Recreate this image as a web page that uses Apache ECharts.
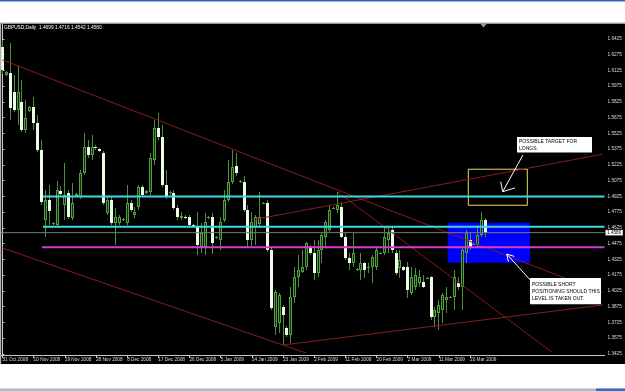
<!DOCTYPE html>
<html><head><meta charset="utf-8">
<script src="https://cdn.jsdelivr.net/npm/echarts@6/dist/echarts.min.js"></script>
<style>html,body{margin:0;padding:0;background:#fff}#c{width:625px;height:391px}</style>
</head><body><div id="c"></div>
<script>
// ---- data (GBPUSD daily, Sunday bars included) ----
const categories = [
'31 Oct 2008',
'2 Nov 2008','3 Nov 2008','4 Nov 2008','5 Nov 2008','6 Nov 2008','7 Nov 2008','9 Nov 2008','10 Nov 2008','11 Nov 2008','12 Nov 2008','13 Nov 2008','14 Nov 2008','16 Nov 2008','17 Nov 2008','18 Nov 2008','19 Nov 2008','20 Nov 2008','21 Nov 2008','23 Nov 2008','24 Nov 2008','25 Nov 2008','26 Nov 2008','27 Nov 2008','28 Nov 2008','30 Nov 2008',
'1 Dec 2008','2 Dec 2008','3 Dec 2008','4 Dec 2008','5 Dec 2008','7 Dec 2008','8 Dec 2008','9 Dec 2008','10 Dec 2008','11 Dec 2008','12 Dec 2008','14 Dec 2008','15 Dec 2008','16 Dec 2008','17 Dec 2008','18 Dec 2008','19 Dec 2008','21 Dec 2008','22 Dec 2008','23 Dec 2008','24 Dec 2008','25 Dec 2008','26 Dec 2008','28 Dec 2008','29 Dec 2008','30 Dec 2008','31 Dec 2008',
'1 Jan 2009','2 Jan 2009','4 Jan 2009','5 Jan 2009','6 Jan 2009','7 Jan 2009','8 Jan 2009','9 Jan 2009','11 Jan 2009','12 Jan 2009','13 Jan 2009','14 Jan 2009','15 Jan 2009','16 Jan 2009','18 Jan 2009','19 Jan 2009','20 Jan 2009','21 Jan 2009','22 Jan 2009','23 Jan 2009','25 Jan 2009','26 Jan 2009','27 Jan 2009','28 Jan 2009','29 Jan 2009','30 Jan 2009',
'1 Feb 2009','2 Feb 2009','3 Feb 2009','4 Feb 2009','5 Feb 2009','6 Feb 2009','8 Feb 2009','9 Feb 2009','10 Feb 2009','11 Feb 2009','12 Feb 2009','13 Feb 2009','15 Feb 2009','16 Feb 2009','17 Feb 2009','18 Feb 2009','19 Feb 2009','20 Feb 2009','22 Feb 2009','23 Feb 2009','24 Feb 2009','25 Feb 2009','26 Feb 2009','27 Feb 2009',
'1 Mar 2009','2 Mar 2009','3 Mar 2009','4 Mar 2009','5 Mar 2009','6 Mar 2009','8 Mar 2009','9 Mar 2009','10 Mar 2009','11 Mar 2009','12 Mar 2009','13 Mar 2009','15 Mar 2009','16 Mar 2009','17 Mar 2009','18 Mar 2009','19 Mar 2009','20 Mar 2009','22 Mar 2009','23 Mar 2009','24 Mar 2009','25 Mar 2009'
];
const opens = [1.6348,1.6082,1.6101,1.5920,1.5749,1.5825,1.5558,1.5739,1.5777,1.5625,1.5368,1.4701,1.4891,1.4663,1.4653,1.4977,1.4844,1.4958,1.4720,1.4929,
1.4920,1.5148,1.5396,1.5320,1.5396,1.5377,1.5339,1.4768,1.4891,1.4672,1.4672,1.4701,1.4672,1.4863,1.4748,1.4825,1.5015,1.4958,1.4968,1.5272,
1.5577,1.5491,1.5034,1.4958,1.4958,1.4815,1.4720,1.4729,1.4729,1.4653,1.4634,1.4444,1.4444,1.4720,1.4729,1.4529,1.4510,1.4701,1.4891,1.5063,
1.5215,1.5063,1.5063,1.4796,1.4510,1.4634,1.4663,1.4858,1.4863,1.4415,1.3680,1.3720,1.3872,1.3672,1.3606,1.3967,1.4158,1.4206,1.4253,1.4444,
1.4387,1.4196,1.4415,1.4539,1.4606,1.4810,1.4796,1.4825,1.4539,1.4339,1.4291,1.4225,1.4225,1.4291,1.4244,1.4253,1.4253,1.4382,1.4387,1.4510,
1.4606,1.4387,1.4244,1.4253,1.4253,1.4006,1.4063,1.4101,1.4110,1.4144,1.4158,1.3777,1.3815,1.3844,1.3939,1.3962,1.3967,1.4101,1.4063,1.4387,
1.4510,1.4468,1.4463,1.4558,1.4699];
const closes = [1.6129,1.6110,1.5768,1.5749,1.5920,1.5558,1.5672,1.5777,1.5625,1.5368,1.4872,1.4891,1.4787,1.4672,1.4987,1.4948,1.4939,1.4729,1.4863,1.4948,
1.5148,1.5396,1.5320,1.5396,1.5387,1.5358,1.4863,1.4891,1.4672,1.4729,1.4729,1.4710,1.4863,1.4796,1.4777,1.5015,1.4939,1.4977,1.5291,1.5577,
1.5491,1.5034,1.4920,1.4968,1.4815,1.4729,1.4739,1.4720,1.4653,1.4644,1.4463,1.4577,1.4682,1.4729,1.4482,1.4539,1.4682,1.4891,1.5063,1.5206,
1.5148,1.5072,1.4796,1.4510,1.4682,1.4729,1.4729,1.4863,1.4415,1.3863,1.4015,1.3987,1.3796,1.3606,1.3967,1.4158,1.4225,1.4253,1.4482,1.4387,
1.4196,1.4415,1.4558,1.4682,1.4796,1.4815,1.4844,1.4539,1.4339,1.4291,1.4387,1.4234,1.4291,1.4225,1.4253,1.4348,1.4415,1.4387,1.4539,1.4577,
1.4415,1.4196,1.4320,1.4225,1.4034,1.4158,1.4177,1.4158,1.4063,1.4149,1.3777,1.3844,1.3891,1.3987,1.3967,1.3967,1.4158,1.4063,1.4415,1.4577,
1.4434,1.4472,1.4558,1.4701,1.4580];
const lows = [1.6091,1.6072,1.5653,1.5729,1.5606,1.5539,1.5529,1.5729,1.5558,1.5349,1.4844,1.4539,1.4653,1.4653,1.4644,1.4920,1.4701,1.4710,1.4701,1.4920,
1.4901,1.5129,1.5291,1.5272,1.5368,1.5349,1.4844,1.4748,1.4653,1.4463,1.4653,1.4691,1.4653,1.4777,1.4720,1.4796,1.4920,1.4948,1.4939,1.5225,
1.5463,1.5015,1.4901,1.4939,1.4796,1.4701,1.4701,1.4710,1.4634,1.4634,1.4367,1.4387,1.4367,1.4710,1.4377,1.4520,1.4415,1.4682,1.4872,1.5044,
1.5120,1.5053,1.4777,1.4444,1.4453,1.4463,1.4625,1.4853,1.4396,1.3844,1.3606,1.3625,1.3510,1.3587,1.3529,1.3910,1.4063,1.4196,1.4225,1.4367,
1.4130,1.4158,1.4291,1.4434,1.4586,1.4806,1.4768,1.4529,1.4320,1.4225,1.4253,1.4215,1.4130,1.4149,1.4196,1.4101,1.4225,1.4377,1.4367,1.4387,
1.4387,1.4177,1.4149,1.4215,1.3958,1.3987,1.4034,1.4063,1.4053,1.4139,1.3748,1.3682,1.3653,1.3720,1.3815,1.3958,1.3844,1.4034,1.3844,1.4291,
1.4415,1.4463,1.4444,1.4539,1.4542];
const highs = [1.6415,1.6120,1.6387,1.6082,1.6167,1.6034,1.5844,1.5787,1.5872,1.5701,1.5463,1.4987,1.5034,1.4682,1.5072,1.5025,1.5244,1.4987,1.5053,1.4958,
1.5177,1.5529,1.5463,1.5510,1.5415,1.5387,1.5358,1.4929,1.4920,1.4815,1.4748,1.4720,1.5034,1.4891,1.4825,1.5034,1.5034,1.4987,1.5339,1.5653,
1.5720,1.5606,1.5177,1.4977,1.4987,1.4844,1.4777,1.4748,1.4748,1.4663,1.4777,1.4672,1.4768,1.4739,1.4768,1.4548,1.4729,1.4987,1.5272,1.5368,
1.5339,1.5082,1.5120,1.4844,1.4777,1.4748,1.4968,1.4872,1.4891,1.4434,1.4034,1.4006,1.3891,1.3691,1.4063,1.4253,1.4367,1.4415,1.4491,1.4463,
1.4510,1.4510,1.4586,1.4701,1.4844,1.4825,1.4968,1.4872,1.4577,1.4387,1.4577,1.4244,1.4387,1.4301,1.4291,1.4367,1.4434,1.4396,1.4634,1.4634,
1.4634,1.4415,1.4415,1.4263,1.4301,1.4253,1.4244,1.4225,1.4177,1.4158,1.4168,1.3872,1.3939,1.4006,1.4063,1.3977,1.4225,1.4158,1.4444,1.4606,
1.4586,1.4482,1.4653,1.4777,1.4716];
const priceTicks = [1.3425,1.3575,1.3725,1.3875,1.4025,1.4175,1.4325,1.4475,1.4625,1.4775,1.4925,1.5075,1.5225,1.5375,1.5525,1.5675,1.5825,1.5975,1.6125,1.6275,1.6425];
const dateLabelStep = 8;
const futureSlots = 30;             // empty chart-shift area right of the last bar
// horizontal levels [startBar, price]
const resistanceLevel = [10.4, 1.4925];
const supportLevel = [10.4, 1.4637];
const triggerLevel = [10.15, 1.4441];
// trend lines as [bar, price] anchors
const trendA = [[0, 1.6225], [154, 1.4008]];
const trendB = [[86, 1.4968], [141, 1.3441]];
const trendC = [[64, 1.4701], [154, 1.5327]];
const trendD = [[0, 1.4434], [78, 1.3432]];
const trendE = [[72, 1.3510], [154, 1.3891]];
// annotation objects
const targetBox = [[119.55, 1.5184], [134.69, 1.4841]];
const shortZone = [[114.26, 1.4675], [135.38, 1.4294]];
const arrowTarget = [[133.58, 1.5320], [128.37, 1.4970]];
const arrowTargetHead = [[127.86, 1.5066], [128.37, 1.4970], [131.53, 1.5006]];
const arrowShort = [[135.82, 1.4113], [129.40, 1.4377]];
const arrowShortHead = [[129.84, 1.4303], [129.40, 1.4377], [131.35, 1.4354]];
const noteTarget = {at: [132.05, 1.5491], text: 'POSSIBLE TARGET FOR\nLONGS.'};
const noteShort = {at: [135.38, 1.4148], text: 'POSSIBLE SHORT\nPOSITIONING SHOULD THIS\nLEVEL IS TAKEN OUT.'};

// ---- build ----
const FONT = 'Liberation Sans';
const lastIdx = opens.length - 1;
const padCats = [];
for (let k = 0; k < futureSlots; k++) padCats.push('~' + k);
const xCats = categories.concat(padCats);
const nCats = xCats.length;
const candleData = opens.map((o, i) => [i, o, closes[i], lows[i], highs[i]]);
const currentPrice = closes[lastIdx];
const titleText = 'GBPUSD,Daily  ' + [opens[lastIdx], highs[lastIdx], lows[lastIdx], closes[lastIdx]].map(v => v.toFixed(4)).join(' ');

const WICK = '#4a8f3a', BULL_EDGE = '#52a040', BULL_FILL = '#10300d', BEAR_FILL = '#eefbe8';

function trend(data, color, width, z) {
  return {type: 'line', xAxisIndex: 1, yAxisIndex: 0, data: data, symbol: 'none', silent: true,
    lineStyle: {color: color, width: width}, z: z, animation: false};
}
const xEnd = nCats - 0.5;

const chart = echarts.init(document.getElementById('c'), null, {renderer: 'canvas'});
chart.setOption({
  animation: false,
  backgroundColor: '#000',
  title: {text: titleText, left: 4, top: 25, padding: 0,
    textStyle: {color: '#ffffff', fontSize: 4.8, fontWeight: 'normal', fontFamily: FONT}},
  grid: {left: 0.5, right: 20.5, top: 24, bottom: 36, outerBoundsMode: 'none'},
  xAxis: [{
    type: 'category', data: xCats, boundaryGap: true,
    axisLine: {show: true, lineStyle: {color: '#c8c8c8', width: 1}},
    axisTick: {show: true, alignWithLabel: true, length: 3, lineStyle: {color: '#c8c8c8'},
      interval: (i) => i % dateLabelStep === 0 && i <= lastIdx},
    axisLabel: {show: true, interval: (i) => i % dateLabelStep === 0 && i <= lastIdx,
      align: 'left', margin: 2, color: '#dcdcdc', fontSize: 4.7, fontFamily: FONT},
    splitLine: {show: false}
  }, {
    type: 'value', min: -0.5, max: xEnd, show: false
  }],
  yAxis: [{
    type: 'value', position: 'right', min: 1.3415, max: 1.6567,
    axisLine: {show: true, lineStyle: {color: '#c8c8c8', width: 1}},
    axisTick: {show: true, length: 2, inside: false, customValues: priceTicks, lineStyle: {color: '#c8c8c8'}},
    axisLabel: {show: true, customValues: priceTicks, margin: 3, color: '#dcdcdc', fontSize: 4.7, fontFamily: FONT,
      formatter: v => Number(v).toFixed(4)},
    splitLine: {show: false}
  }],
  series: [
    // background short zone (blue filled rectangle)
    {type: 'line', xAxisIndex: 1, yAxisIndex: 0, data: shortZone, symbol: 'none', silent: true,
      lineStyle: {width: 0, opacity: 0}, z: 1,
      markArea: {silent: true, itemStyle: {color: '#0000ff', opacity: 1},
        data: [[{coord: shortZone[0]}, {coord: shortZone[1]}]]}},
    // candles
    {type: 'custom', xAxisIndex: 0, yAxisIndex: 0, data: candleData, z: 3,
      encode: {x: 0, y: [1, 2, 3, 4]},
      renderItem: function (params, api) {
        const i = api.value(0), o = api.value(1), c = api.value(2), l = api.value(3), h = api.value(4);
        const po = api.coord([i, o]), pc = api.coord([i, c]), pl = api.coord([i, l]), ph = api.coord([i, h]);
        const cx = Math.round(po[0] - 0.5);
        const top = Math.round(Math.min(po[1], pc[1]));
        const bot = Math.round(Math.max(po[1], pc[1]));
        const hg = Math.max(bot - top, 1);
        const yh = Math.round(ph[1]), yl = Math.round(pl[1]);
        const ch = [{type: 'rect', shape: {x: cx, y: yh, width: 1, height: Math.max(yl - yh, 1)}, style: {fill: WICK}}];
        if (c >= o) {
          ch.push({type: 'rect', shape: {x: cx - 1, y: top, width: 3, height: hg}, style: {fill: BULL_EDGE}});
          if (hg > 2) ch.push({type: 'rect', shape: {x: cx, y: top + 1, width: 1, height: hg - 2}, style: {fill: BULL_FILL}});
        } else {
          ch.push({type: 'rect', shape: {x: cx - 1, y: top, width: 3, height: hg}, style: {fill: BEAR_FILL}});
        }
        return {type: 'group', children: ch};
      }},
    // trend lines
    trend(trendA, '#8c1b1b', 1, 4),
    trend(trendB, '#8c1b1b', 1, 4),
    trend(trendC, '#8c1b1b', 1, 4),
    trend(trendD, '#8c1b1b', 1, 4),
    trend(trendE, '#8c1b1b', 1, 4),
    // horizontal levels
    trend([resistanceLevel, [xEnd, resistanceLevel[1]]], '#3fd9e2', 2, 5),
    trend([supportLevel, [xEnd, supportLevel[1]]], '#3fd9e2', 2, 5),
    trend([triggerLevel, [xEnd, triggerLevel[1]]], '#cf3fcf', 2, 5),
    // current price line with axis tag
    Object.assign(trend([[-0.5, currentPrice], [xEnd, currentPrice]], '#7a7a7a', 1, 4), {
      endLabel: {show: true, formatter: () => currentPrice.toFixed(4), backgroundColor: '#ffffff',
        color: '#000', fontSize: 4.7, fontFamily: FONT, padding: [0.5, 1.5, 0, 1.5], distance: 1}}),
    // target box (yellow outline)
    {type: 'line', xAxisIndex: 1, yAxisIndex: 0, data: targetBox, symbol: 'none', silent: true,
      lineStyle: {width: 0, opacity: 0}, z: 6,
      markArea: {silent: true, itemStyle: {color: 'rgba(0,0,0,0)', borderColor: '#e6df63', borderWidth: 1},
        data: [[{coord: targetBox[0]}, {coord: targetBox[1]}]]}},
    // arrows
    trend(arrowTarget, '#ffffff', 1, 7),
    trend(arrowTargetHead, '#ffffff', 1, 7),
    trend(arrowShort, '#ffffff', 1, 7),
    trend(arrowShortHead, '#ffffff', 1, 7),
    // text notes
    {type: 'scatter', xAxisIndex: 1, yAxisIndex: 0, symbolSize: 0, silent: true, z: 8,
      itemStyle: {opacity: 1},
      data: [
        {value: noteTarget.at, label: {formatter: noteTarget.text, width: 71, lineHeight: 6.5, padding: [1.5, 2, 1, 2]}},
        {value: noteShort.at, label: {formatter: noteShort.text, width: 67, lineHeight: 7.2, padding: [2.5, 2, 2, 2]}}
      ],
      label: {show: true, position: [0, 0], align: 'left', verticalAlign: 'top', color: '#000', opacity: 1,
        backgroundColor: '#ffffff', fontSize: 5, fontFamily: FONT}}
  ],
  graphic: [
    {type: 'rect', shape: {x: 0, y: 0, width: 625, height: 23.5}, style: {fill: '#ffffff'}, z: 100, silent: true},
    {type: 'rect', shape: {x: 0, y: 0, width: 625, height: 1.5}, style: {fill: '#3566b0'}, z: 101, silent: true},
    {type: 'rect', shape: {x: 0, y: 22.5, width: 625, height: 1}, style: {fill: '#b4b4b4'}, z: 101, silent: true},
    {type: 'rect', shape: {x: 0, y: 364, width: 625, height: 27}, style: {fill: '#ffffff'}, z: 100, silent: true},
    {type: 'rect', shape: {x: 0, y: 388.5, width: 625, height: 2.5}, style: {fill: '#a9b8c8'}, z: 101, silent: true},
    {type: 'rect', shape: {x: 596, y: 388.5, width: 29, height: 2.5}, style: {fill: '#3c6db4'}, z: 101, silent: true},
    {type: 'rect', shape: {x: 0, y: 24, width: 1.2, height: 340}, style: {fill: '#b0b0b0'}, z: 101, silent: true},
    {type: 'polygon', shape: {points: [[480.5, 24], [486.5, 24], [483.5, 27.5]]}, style: {fill: '#9a9a9a'}, z: 101, silent: true}
  ]
});
</script>
</body></html>
